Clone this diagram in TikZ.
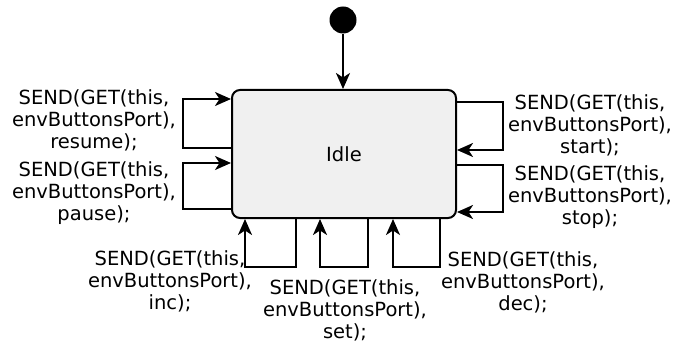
\documentclass[tikz,border=0pt]{standalone}
\usepackage{fontspec}
\setmainfont{DejaVu Sans}
\usetikzlibrary{arrows.meta}
\tikzset{
 conn/.style={line width=2pt, -{Stealth[length=16pt,width=14pt,inset=4.5pt]}},
 lbl/.style={align=center, font=\fontsize{19.5}{22}\selectfont, inner sep=0pt},
 statebox/.style={draw, line width=2pt, rounded corners=8pt, fill=gray!12, minimum width=224pt, minimum height=128pt, font=\fontsize{19.5}{22}\selectfont}
}
\begin{document}
\begin{tikzpicture}[x=1pt,y=-1pt]
\useasboundingbox (0,0) rectangle (676,350);
\node[circle, fill=black, minimum size=27pt, inner sep=0pt] (init) at (343,20) {};
\node[statebox] (idle) at (344,154) {Idle};
\draw[conn] (init) -- (init |- idle.north);
% left loops
\coordinate (lA) at (183,148); \coordinate (lB) at (183,99);
\coordinate (lC) at (183,209); \coordinate (lD) at (183,163);
\draw[conn] (idle.west |- lA) -- (lA) -- (lB) -- (idle.west |- lB);
\draw[conn] (idle.west |- lC) -- (lC) -- (lD) -- (idle.west |- lD);
% right loops
\coordinate (rA) at (503,102); \coordinate (rB) at (503,150);
\coordinate (rC) at (503,165); \coordinate (rD) at (503,212);
\draw[conn] (idle.east |- rA) -- (rA) -- (rB) -- (idle.east |- rB);
\draw[conn] (idle.east |- rC) -- (rC) -- (rD) -- (idle.east |- rD);
% bottom loops
\coordinate (bA) at (296,267); \coordinate (bB) at (245,267);
\coordinate (bC) at (368,267); \coordinate (bD) at (320,267);
\coordinate (bE) at (440,267); \coordinate (bF) at (393,267);
\draw[conn] (bA |- idle.south) -- (bA) -- (bB) -- (bB |- idle.south);
\draw[conn] (bC |- idle.south) -- (bC) -- (bD) -- (bD |- idle.south);
\draw[conn] (bE |- idle.south) -- (bE) -- (bF) -- (bF |- idle.south);
% labels
\node[lbl] (tresume) at (94,120) {SEND(GET(this,\\envButtonsPort),\\resume);};
\node[lbl] (tpause) at (94,193) {SEND(GET(this,\\envButtonsPort),\\pause);};
\node[lbl] (tstart) at (590,125) {SEND(GET(this,\\envButtonsPort),\\start);};
\node[lbl] (tstop) at (590,197) {SEND(GET(this,\\envButtonsPort),\\stop);};
\node[lbl] (tinc) at (170,281) {SEND(GET(this,\\envButtonsPort),\\inc);};
\node[lbl] (tset) at (345,310) {SEND(GET(this,\\envButtonsPort),\\set);};
\node[lbl] (tdec) at (523,282) {SEND(GET(this,\\envButtonsPort),\\dec);};
\end{tikzpicture}
\end{document}
